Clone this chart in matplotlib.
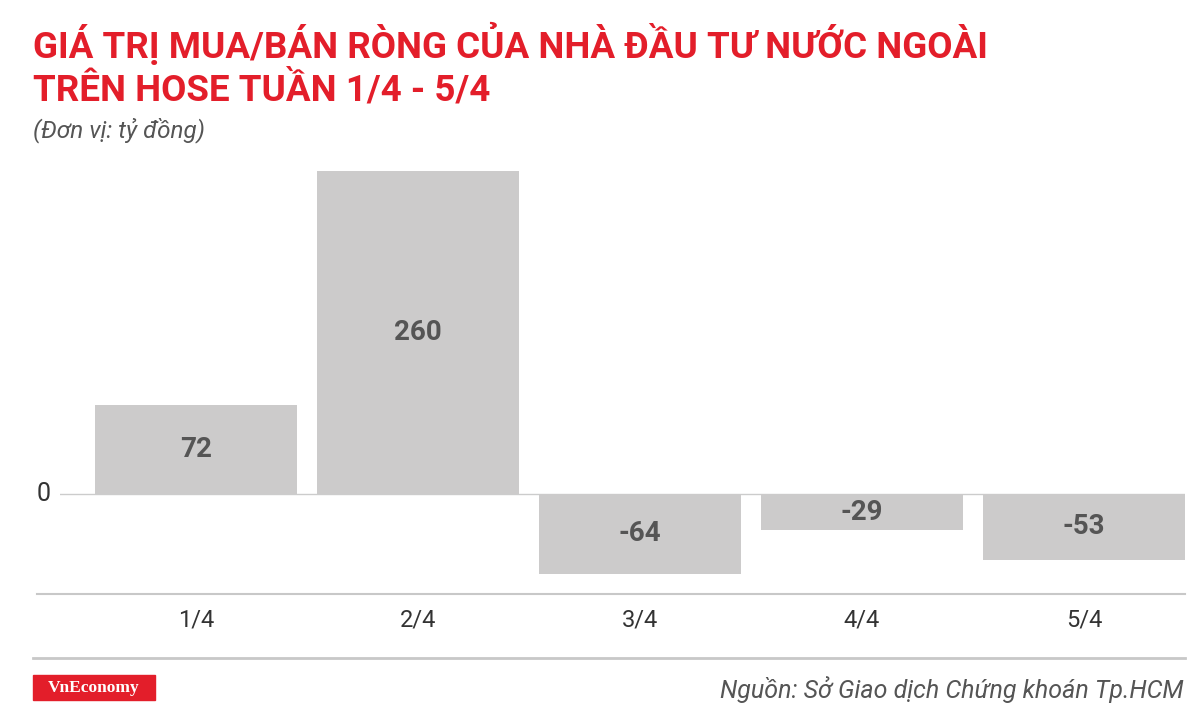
import matplotlib.pyplot as plt
from matplotlib.lines import Line2D
from matplotlib.patches import Rectangle

categories = ['1/4', '2/4', '3/4', '4/4', '5/4']
values = [72, 260, -64, -29, -53]

plt.rcParams['font.family'] = ['Roboto', 'DejaVu Sans']
fig = plt.figure(figsize=(12, 7.12), dpi=100)
ax = fig.add_axes([0.05, 1 - 594 / 712, 0.9375, (594 - 171) / 712])

x = range(len(categories))
ax.bar(x, values, width=0.91, color='#cccbcb', zorder=2)
for xi, v in zip(x, values):
    ax.text(xi, v / 2, str(v), ha='center', va='center', fontsize=20,
            fontweight='bold', color='#555555', zorder=3)
ax.set_xlim(-0.613, 4.455)
ax.set_ylim(-80.5, 260)
ax.axhline(0, color='#cccccc', lw=1, zorder=1)
for s in ax.spines.values():
    s.set_visible(False)
ax.set_xticks([])
ax.set_yticks([])
fig.text(44 / 1200, 1 - 494 / 712, '0', ha='center', va='center', fontsize=18, color='#333333')
for xi, c in zip(x, categories):
    ax.text(xi, -80.5 - 26 / 1.242, c, ha='center', va='center', fontsize=17, color='#333333')

fig.add_artist(Line2D([37 / 1200, 1185 / 1200], [1 - 594 / 712] * 2, color='#c8c8c8', lw=1.5))
fig.add_artist(Line2D([33 / 1200, 1185 / 1200], [1 - 658 / 712] * 2, color='#c8c8c8', lw=2))

fig.text(33 / 1200, 1 - 44 / 712, 'GIÁ TRỊ MUA/BÁN RÒNG CỦA NHÀ ĐẦU TƯ NƯỚC NGOÀI',
         fontsize=26.5, fontweight='bold', color='#e31e2a', va='center')
fig.text(33 / 1200, 1 - 90 / 712, 'TRÊN HOSE TUẦN 1/4 - 5/4',
         fontsize=26.5, fontweight='bold', color='#e31e2a', va='center')
fig.text(33 / 1200, 1 - 130 / 712, '(Đơn vị: tỷ đồng)', fontsize=17.5, style='italic',
         color='#555555', va='center')

fig.add_artist(Rectangle((33 / 1200, 1 - 700 / 712), 122 / 1200, 25 / 712,
                         transform=fig.transFigure, color='#e31e2a'))
fig.text(94 / 1200, 1 - 687.5 / 712, 'VnEconomy', family='Liberation Serif', fontweight='bold',
         fontsize=12.5, color='white', ha='center', va='center')
fig.text(1183 / 1200, 1 - 690 / 712, 'Nguồn: Sở Giao dịch Chứng khoán Tp.HCM', fontsize=18,
         style='italic', color='#555555', ha='right', va='center')

fig.savefig('out.png', dpi=100)
